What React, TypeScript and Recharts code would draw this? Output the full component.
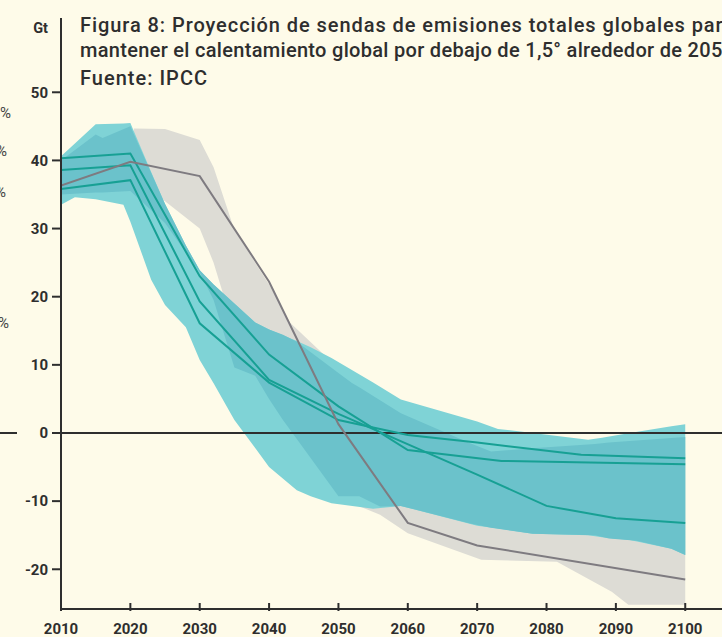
import { ComposedChart, Area, Line, XAxis, YAxis, ReferenceLine } from 'recharts';

// Band edges (Gt) at each band's own years
const outerYears = [2010, 2012, 2015, 2019, 2020, 2023, 2025, 2028, 2030, 2032, 2035, 2038, 2040, 2044, 2046, 2049, 2055, 2059, 2070, 2073, 2078, 2086, 2088, 2092, 2098, 2100];
const outerHigh = [40.6, 42.5, 45.3, 45.4, 45.5, 38.3, 33.6, 27.5, 23.9, 21.8, 19.0, 16.2, 15.2, 13.5, 12.6, 11.0, 7.4, 4.9, 1.7, 0.6, 0.0, -1.0, -0.7, 0.0, 1.0, 1.3];
const outerLow = [33.5, 34.6, 34.3, 33.5, 31.0, 22.5, 18.8, 15.5, 10.7, 7.3, 1.9, -2.2, -5.0, -8.4, -9.3, -10.3, -11.1, -10.7, -13.6, -14.0, -14.8, -15.0, -15.3, -15.7, -17.0, -17.9];

const innerYears = [2010, 2015, 2016, 2020, 2025, 2028, 2030, 2032, 2035, 2038, 2040, 2042, 2044, 2050, 2052, 2053, 2056, 2059, 2069, 2072, 2078, 2087, 2089, 2093, 2098, 2100];
const innerHigh = [40.0, 43.8, 43.3, 45.0, 33.6, 27.5, 23.9, 21.8, 19.0, 16.2, 15.2, 14.4, 13.4, 8.8, 7.3, 6.7, 4.8, 2.9, -1.5, -2.7, -2.25, -1.6, -1.4, -1.1, -0.75, -0.6];
const innerLow = [35.0, 35.3, 35.3, 35.5, 30.8, 26.5, 23.6, 19.5, 9.6, 8.4, 5.0, 1.9, -0.9, -9.3, -9.3, -9.3, -10.8, -10.7, -13.3, -13.9, -14.8, -15.0, -15.5, -15.8, -17.0, -17.9];

const greyYears = [2020.5, 2025, 2030, 2032, 2035, 2040, 2043, 2048, 2050, 2056, 2060, 2070.6, 2081.5, 2089.4, 2091.8, 2100];
const greyHigh = [44.7, 44.6, 43.0, 39.0, 29.8, 21.8, 16.2, 11.4, 10.0, 6.0, 3.5, 0.5, -1.0, -2.0, -2.0, -3.0];
const greyLow = [38.0, 34.0, 30.0, 25.0, 15.0, 0.0, -5.0, -9.0, -9.5, -12.0, -14.7, -18.6, -18.9, -23.3, -25.2, -25.2];

// Pathways
const pathAYears = [2010, 2020, 2030, 2040, 2050, 2060, 2073.5, 2100];
const pathA = [40.3, 41.0, 23.0, 11.5, 3.9, -2.5, -4.1, -4.6];
const pathBYears = [2010, 2020, 2030, 2040, 2050, 2070, 2080, 2090, 2100];
const pathB = [38.6, 39.3, 19.3, 7.8, 2.8, -6.1, -10.7, -12.5, -13.2];
const pathCYears = [2010, 2020, 2030, 2040, 2050, 2060, 2070, 2085, 2100];
const pathC = [35.8, 37.1, 16.1, 7.4, 1.9, -0.3, -1.4, -3.2, -3.7];
const greyPathYears = [2010, 2020, 2030, 2040, 2050, 2060, 2070, 2100];
const greyPath = [36.3, 39.8, 37.7, 22.2, 1.3, -13.2, -16.5, -21.5];

const xTicks = [2010, 2020, 2030, 2040, 2050, 2060, 2070, 2080, 2090, 2100];
const yTicks = [-20, -10, 0, 10, 20, 30, 40, 50];

const titleLines = [
  'Figura 8: Proyección de sendas de emisiones totales globales para',
  'mantener el calentamiento global por debajo de 1,5° alrededor de 2050',
];
const source = 'Fuente: IPCC';
const unit = 'Gt';

const BG = '#fefbe9';
const INK = '#2e2e2e';
const FONT = 'Roboto, "Noto Sans", sans-serif';

function buildRows() {
  const rows = new Map<number, any>();
  const put = (years: number[], key: string, values: number[]) => {
    years.forEach((yr, i) => {
      const r = rows.get(yr) ?? { year: yr };
      r[key] = values[i];
      rows.set(yr, r);
    });
  };
  put(outerYears, 'outerHi', outerHigh);
  put(outerYears, 'outerLo', outerLow);
  put(innerYears, 'innerHi', innerHigh);
  put(innerYears, 'innerLo', innerLow);
  put(greyYears, 'greyHi', greyHigh);
  put(greyYears, 'greyLo', greyLow);
  put(pathAYears, 'a', pathA);
  put(pathBYears, 'b', pathB);
  put(pathCYears, 'c', pathC);
  put(greyPathYears, 'g', greyPath);
  return [...rows.values()].sort((p, q) => p.year - q.year);
}

const data = buildRows();

const range = (lo: string, hi: string) => (r: any) =>
  r[lo] != null && r[hi] != null ? [r[lo], r[hi]] : null;
const single = (k: string) => (r: any) => (r[k] != null ? r[k] : null);

function YearTick({ x, y, payload }: any) {
  return (
    <g>
      <line x1={x} x2={x} y1={y} y2={y - 8} stroke={INK} strokeWidth={2} />
      <text x={x} y={y + 23} textAnchor="middle" fill={INK} fontSize={15} fontWeight={700} fontFamily={FONT}>
        {payload.value}
      </text>
    </g>
  );
}

export default function App() {
  return (
    <div style={{ position: 'absolute', left: 0, top: 0, width: 722, height: 637, background: BG, overflow: 'hidden' }}>
      <ComposedChart width={722} height={637} data={data} margin={{ top: 18, right: 0, bottom: 0, left: 0 }}>
        <XAxis
          dataKey="year"
          type="number"
          domain={[2010, 2105.3]}
          allowDataOverflow
          ticks={xTicks}
          height={28}
          tickSize={0}
          tickLine={false}
          tick={<YearTick />}
          axisLine={{ stroke: INK, strokeWidth: 2 }}
        />
        <YAxis
          type="number"
          domain={[-25.83, 60.9]}
          allowDataOverflow
          ticks={yTicks}
          width={61}
          tickSize={9}
          tickMargin={4}
          tickLine={{ stroke: INK, strokeWidth: 2 }}
          axisLine={{ stroke: INK, strokeWidth: 2 }}
          tick={{ fill: INK, fontSize: 15, fontWeight: 700, fontFamily: FONT }}
        />
        <Area dataKey={range('greyLo', 'greyHi')} type="linear" connectNulls fill="#dddcd5" fillOpacity={1} stroke="none" isAnimationActive={false} />
        <Area dataKey={range('outerLo', 'outerHi')} type="linear" connectNulls fill="#7fd3d6" fillOpacity={1} stroke="none" isAnimationActive={false} />
        <Area dataKey={range('innerLo', 'innerHi')} type="linear" connectNulls fill="#6bc2cb" fillOpacity={1} stroke="none" isAnimationActive={false} />
        <ReferenceLine y={0} stroke={INK} strokeWidth={2} />
        <Line dataKey={single('a')} type="linear" connectNulls stroke="#17a094" strokeWidth={2} dot={false} activeDot={false} isAnimationActive={false} />
        <Line dataKey={single('b')} type="linear" connectNulls stroke="#17a094" strokeWidth={2} dot={false} activeDot={false} isAnimationActive={false} />
        <Line dataKey={single('c')} type="linear" connectNulls stroke="#17a094" strokeWidth={2} dot={false} activeDot={false} isAnimationActive={false} />
        <Line dataKey={single('g')} type="linear" connectNulls stroke="#7e7b80" strokeWidth={2} dot={false} activeDot={false} isAnimationActive={false} />
      </ComposedChart>
      <svg width={722} height={637} style={{ position: 'absolute', left: 0, top: 0, pointerEvents: 'none' }}>
        <text x={80} y={31.5} fontFamily={FONT} fontSize={20} fontWeight={500} fill={INK} textLength={654} lengthAdjust="spacing">
          {titleLines[0]}
        </text>
        <text x={80} y={56.5} fontFamily={FONT} fontSize={20} fontWeight={500} fill={INK} textLength={654} lengthAdjust="spacing">
          {titleLines[1]}
        </text>
        <text x={80} y={85} fontFamily={FONT} fontSize={20} fontWeight={500} fill={INK} textLength={127} lengthAdjust="spacing">
          {source}
        </text>
        <text x={48} y={33} textAnchor="end" fontFamily={FONT} fontSize={14.5} fontWeight={700} fill={INK}>
          {unit}
        </text>
        <text x={0} y={118} fontFamily={FONT} fontSize={15} fill="#444">%</text>
        <text x={-4} y={156} fontFamily={FONT} fontSize={15} fill="#444">%</text>
        <text x={-5} y={197} fontFamily={FONT} fontSize={15} fill="#444">%</text>
        <text x={-2} y={328} fontFamily={FONT} fontSize={15} fill="#444">%</text>
        <line x1={0} x2={17} y1={433} y2={433} stroke={INK} strokeWidth={2} />
      </svg>
    </div>
  );
}
